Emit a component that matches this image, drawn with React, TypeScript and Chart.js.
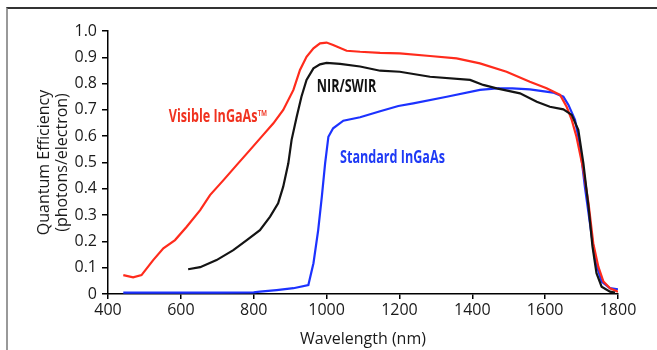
import React, { useEffect, useRef } from "react";
import { Chart, registerables } from "chart.js";

Chart.register(...registerables);

// ---- Data ----
const visibleNm = [442, 469, 492, 524, 552, 584, 616, 653, 680, 717, 753, 790, 826, 854, 881, 909, 927, 945, 964, 982, 1000, 1018, 1055, 1092, 1147, 1201, 1284, 1357, 1421, 1494, 1558, 1604, 1641, 1659, 1673, 1686, 1705, 1719, 1732, 1746, 1760, 1778, 1800];
const visibleQE = [0.072, 0.063, 0.072, 0.129, 0.174, 0.205, 0.256, 0.319, 0.376, 0.433, 0.49, 0.548, 0.605, 0.649, 0.7, 0.776, 0.852, 0.902, 0.934, 0.953, 0.956, 0.947, 0.925, 0.921, 0.917, 0.915, 0.905, 0.896, 0.877, 0.845, 0.807, 0.782, 0.757, 0.712, 0.662, 0.598, 0.471, 0.345, 0.193, 0.104, 0.047, 0.022, 0.009];

const nirNm = [620, 653, 698, 744, 781, 817, 845, 867, 881, 895, 904, 918, 931, 945, 964, 982, 1000, 1037, 1092, 1147, 1201, 1284, 1394, 1430, 1467, 1531, 1577, 1613, 1650, 1673, 1691, 1705, 1719, 1730, 1741, 1755, 1778, 1792];
const nirQE = [0.094, 0.102, 0.129, 0.167, 0.205, 0.243, 0.294, 0.345, 0.408, 0.497, 0.586, 0.674, 0.75, 0.814, 0.858, 0.873, 0.879, 0.875, 0.865, 0.849, 0.845, 0.826, 0.814, 0.795, 0.782, 0.763, 0.731, 0.712, 0.702, 0.681, 0.624, 0.497, 0.332, 0.18, 0.079, 0.028, 0.009, 0.005];

const standardNm = [442, 500, 600, 700, 800, 817, 863, 909, 950, 964, 977, 987, 996, 1005, 1018, 1046, 1092, 1147, 1197, 1238, 1330, 1421, 1467, 1510, 1558, 1622, 1650, 1664, 1682, 1696, 1709, 1723, 1737, 1755, 1778, 1800];
const standardQE = [0.005, 0.005, 0.005, 0.005, 0.006, 0.009, 0.015, 0.022, 0.034, 0.117, 0.243, 0.37, 0.497, 0.598, 0.63, 0.659, 0.672, 0.695, 0.715, 0.725, 0.75, 0.776, 0.782, 0.782, 0.778, 0.766, 0.75, 0.719, 0.662, 0.56, 0.408, 0.269, 0.129, 0.047, 0.022, 0.018];

const seriesNames = ["NIR/SWIR", "Visible InGaAs\u2122", "Standard InGaAs"];
const labelNm = [973, 567, 1037];
const labelQE = [0.785, 0.674, 0.516];

const xTickMin = 400;
const xTickMax = 1800;
const xTickStep = 200;
const yTickMin = 0;
const yTickMax = 1.0;
const yTickStep = 0.1;

const xTitle = "Wavelength (nm)";
const yTitle = ["Quantum Efficiency", "(photons/electron)"];

const FONT = '"Open Sans", sans-serif';
const LABEL_FONT = 'bold 17px "Open Sans", sans-serif';
const LABEL_CONDENSE = 0.74;
const lineColors = ["#141414", "#ff2b1c", "#1c32ff"];
const labelColors = ["#111111", "#f0321f", "#1f3af5"];

const toPoints = (xs: number[], ys: number[]) => xs.map((x, i) => ({ x, y: ys[i] }));

const labelPlugin = {
  id: "seriesLabels",
  afterDatasetsDraw(chart: any) {
    const { ctx, scales } = chart;
    const xs = scales.x;
    const ys = scales.y;
    seriesNames.forEach((t, i) => {
      ctx.save();
      ctx.font = LABEL_FONT;
      ctx.textBaseline = "middle";
      ctx.textAlign = "left";
      ctx.fillStyle = labelColors[i];
      ctx.translate(xs.getPixelForValue(labelNm[i]), ys.getPixelForValue(labelQE[i]));
      ctx.scale(LABEL_CONDENSE, 1);
      ctx.fillText(t, 0, 0);
      ctx.restore();
    });
  },
};

export default function App() {
  const canvasRef = useRef<HTMLCanvasElement | null>(null);

  useEffect(() => {
    if (!canvasRef.current) return;
    const chart = new Chart(canvasRef.current, {
      type: "line",
      data: {
        datasets: [
          { label: seriesNames[0], data: toPoints(nirNm, nirQE), borderColor: lineColors[0] },
          { label: seriesNames[1], data: toPoints(visibleNm, visibleQE), borderColor: lineColors[1] },
          { label: seriesNames[2], data: toPoints(standardNm, standardQE), borderColor: lineColors[2] },
        ].map((d) => ({ ...d, borderWidth: 2.2, pointRadius: 0, tension: 0, fill: false })),
      },
      options: {
        animation: false,
        responsive: false,
        devicePixelRatio: 1,
        layout: { padding: { left: 0, top: 31, right: 39, bottom: 0 } },
        plugins: { legend: { display: false }, tooltip: { enabled: false } },
        scales: {
          x: {
            type: "linear",
            min: xTickMin,
            max: xTickMax,
            ticks: {
              stepSize: xTickStep,
              color: "#1a1a1a",
              font: { family: FONT, size: 16 },
              padding: 2,
              maxRotation: 0,
              callback: (v: any) => String(Math.round(Number(v))),
            },
            grid: { drawOnChartArea: false, drawTicks: true, tickLength: 5, color: "#000", lineWidth: 1.5 },
            border: { color: "#000", width: 1.5 },
            title: {
              display: true,
              text: xTitle,
              color: "#1a1a1a",
              font: { family: FONT, size: 16, lineHeight: 1.2 },
              padding: { top: 0, bottom: 1 },
            },
            afterFit: (s: any) => {
              s.height = 56;
            },
          },
          y: {
            type: "linear",
            min: yTickMin,
            max: yTickMax,
            ticks: {
              stepSize: yTickStep,
              color: "#1a1a1a",
              font: { family: FONT, size: 16 },
              padding: 5,
              callback: (v: any) => (Number(v) === 0 ? "0" : Number(v).toFixed(1)),
            },
            grid: { drawOnChartArea: false, drawTicks: true, tickLength: 6, color: "#000", lineWidth: 1.5 },
            border: { color: "#000", width: 1.5 },
            title: {
              display: true,
              text: yTitle,
              color: "#1a1a1a",
              font: { family: FONT, size: 16, lineHeight: 1.1 },
              padding: { top: 36, bottom: 0 },
            },
            afterFit: (s: any) => {
              s.width = 108;
            },
          },
        },
      },
      plugins: [labelPlugin],
    } as any);
    return () => chart.destroy();
  }, []);

  return (
    <div style={{ position: "absolute", left: 0, top: 0, width: 657, height: 350, background: "#fff" }}>
      <div
        style={{
          position: "absolute",
          left: 6,
          top: 7,
          width: 660,
          height: 360,
          borderTop: "2px solid #333",
          borderLeft: "2px solid #999",
        }}
      />
      <canvas
        ref={canvasRef}
        width={657}
        height={350}
        style={{ position: "absolute", left: 0, top: 0, width: 657, height: 350 }}
      />
    </div>
  );
}
